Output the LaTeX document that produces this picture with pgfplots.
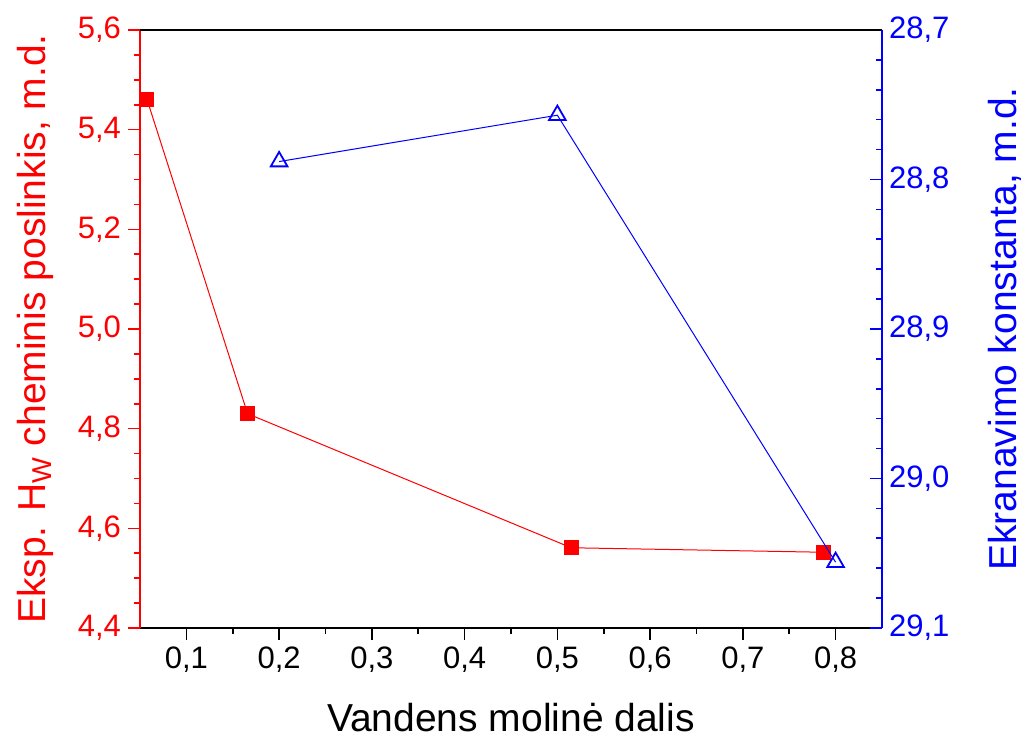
\documentclass[border=0pt]{standalone}
\usepackage{pgfplots}
\pgfplotsset{compat=1.18}
\usepackage{fontspec}
\setmainfont{Liberation Sans}
\begin{document}
\begin{tikzpicture}
\path[use as bounding box] (0,0) rectangle (512.5pt,369pt);
\pgfplotsset{
  common/.style={
    scale only axis, width=371pt, height=299pt,
    at={(70pt,55pt)}, anchor=south west,
    xmin=0.05, xmax=0.85,
    /pgf/number format/assume math mode=true,
    /pgf/number format/use comma,
    /pgf/number format/fixed,
    /pgf/number format/precision=1,
    /pgf/number format/fixed zerofill,
    tick label style={font=\fontsize{15.5}{18}\selectfont},
    label style={font=\fontsize{19.5}{23}\selectfont},
    major tick length=6pt, minor tick length=3pt,
    every tick/.append style={line width=0.8pt},
    axis line style={line width=1pt},
  }
}
\begin{axis}[common,
  ymin=4.4, ymax=5.6,
  ytick={4.4,4.6,4.8,5.0,5.2,5.4,5.6},
  xtick={0.1,0.2,0.3,0.4,0.5,0.6,0.7,0.8},
  minor x tick num=1, minor y tick num=3,
  axis x line*=bottom, axis y line*=left,
  tick align=outside,
  y axis line style={red},
  yticklabel style={red},
  every y tick/.append style={red},
  every x tick/.append style={black},
  xlabel={Vandens molinė dalis},
  xlabel style={at={(axis description cs:0.5,-0.1505)}, anchor=center},
  ylabel={Eksp. H\textsubscript{W} cheminis poslinkis, m.d.},
  ylabel style={red, at={(axis description cs:-0.1415,0.5)}, anchor=center},
]
\addplot[red, line width=0.5pt, mark=square*, mark size=3.5pt, mark options={solid}]
  coordinates {(0.0575,5.461) (0.166,4.830) (0.515,4.561) (0.787,4.552)};
\end{axis}
\begin{axis}[common,
  ymin=28.7, ymax=29.1, y dir=reverse,
  axis y line*=right, axis x line*=top,
  xtick=\empty,
  ytick={28.7,28.8,28.9,29.0,29.1},
  minor y tick num=4,
  tick align=inside,
  y axis line style={blue},
  x axis line style={black},
  yticklabel style={blue},
  every y tick/.append style={blue},
  ylabel={Ekranavimo konstanta, m.d.},
  ylabel style={blue, at={(axis description cs:1.166,0.5)}, anchor=center},
]
\addplot[blue, line width=0.5pt, mark=triangle, mark size=4.8pt, mark options={solid, line width=0.9pt}]
  coordinates {(0.2,28.788) (0.5,28.757) (0.8,29.056)};
\end{axis}
\end{tikzpicture}
\end{document}
